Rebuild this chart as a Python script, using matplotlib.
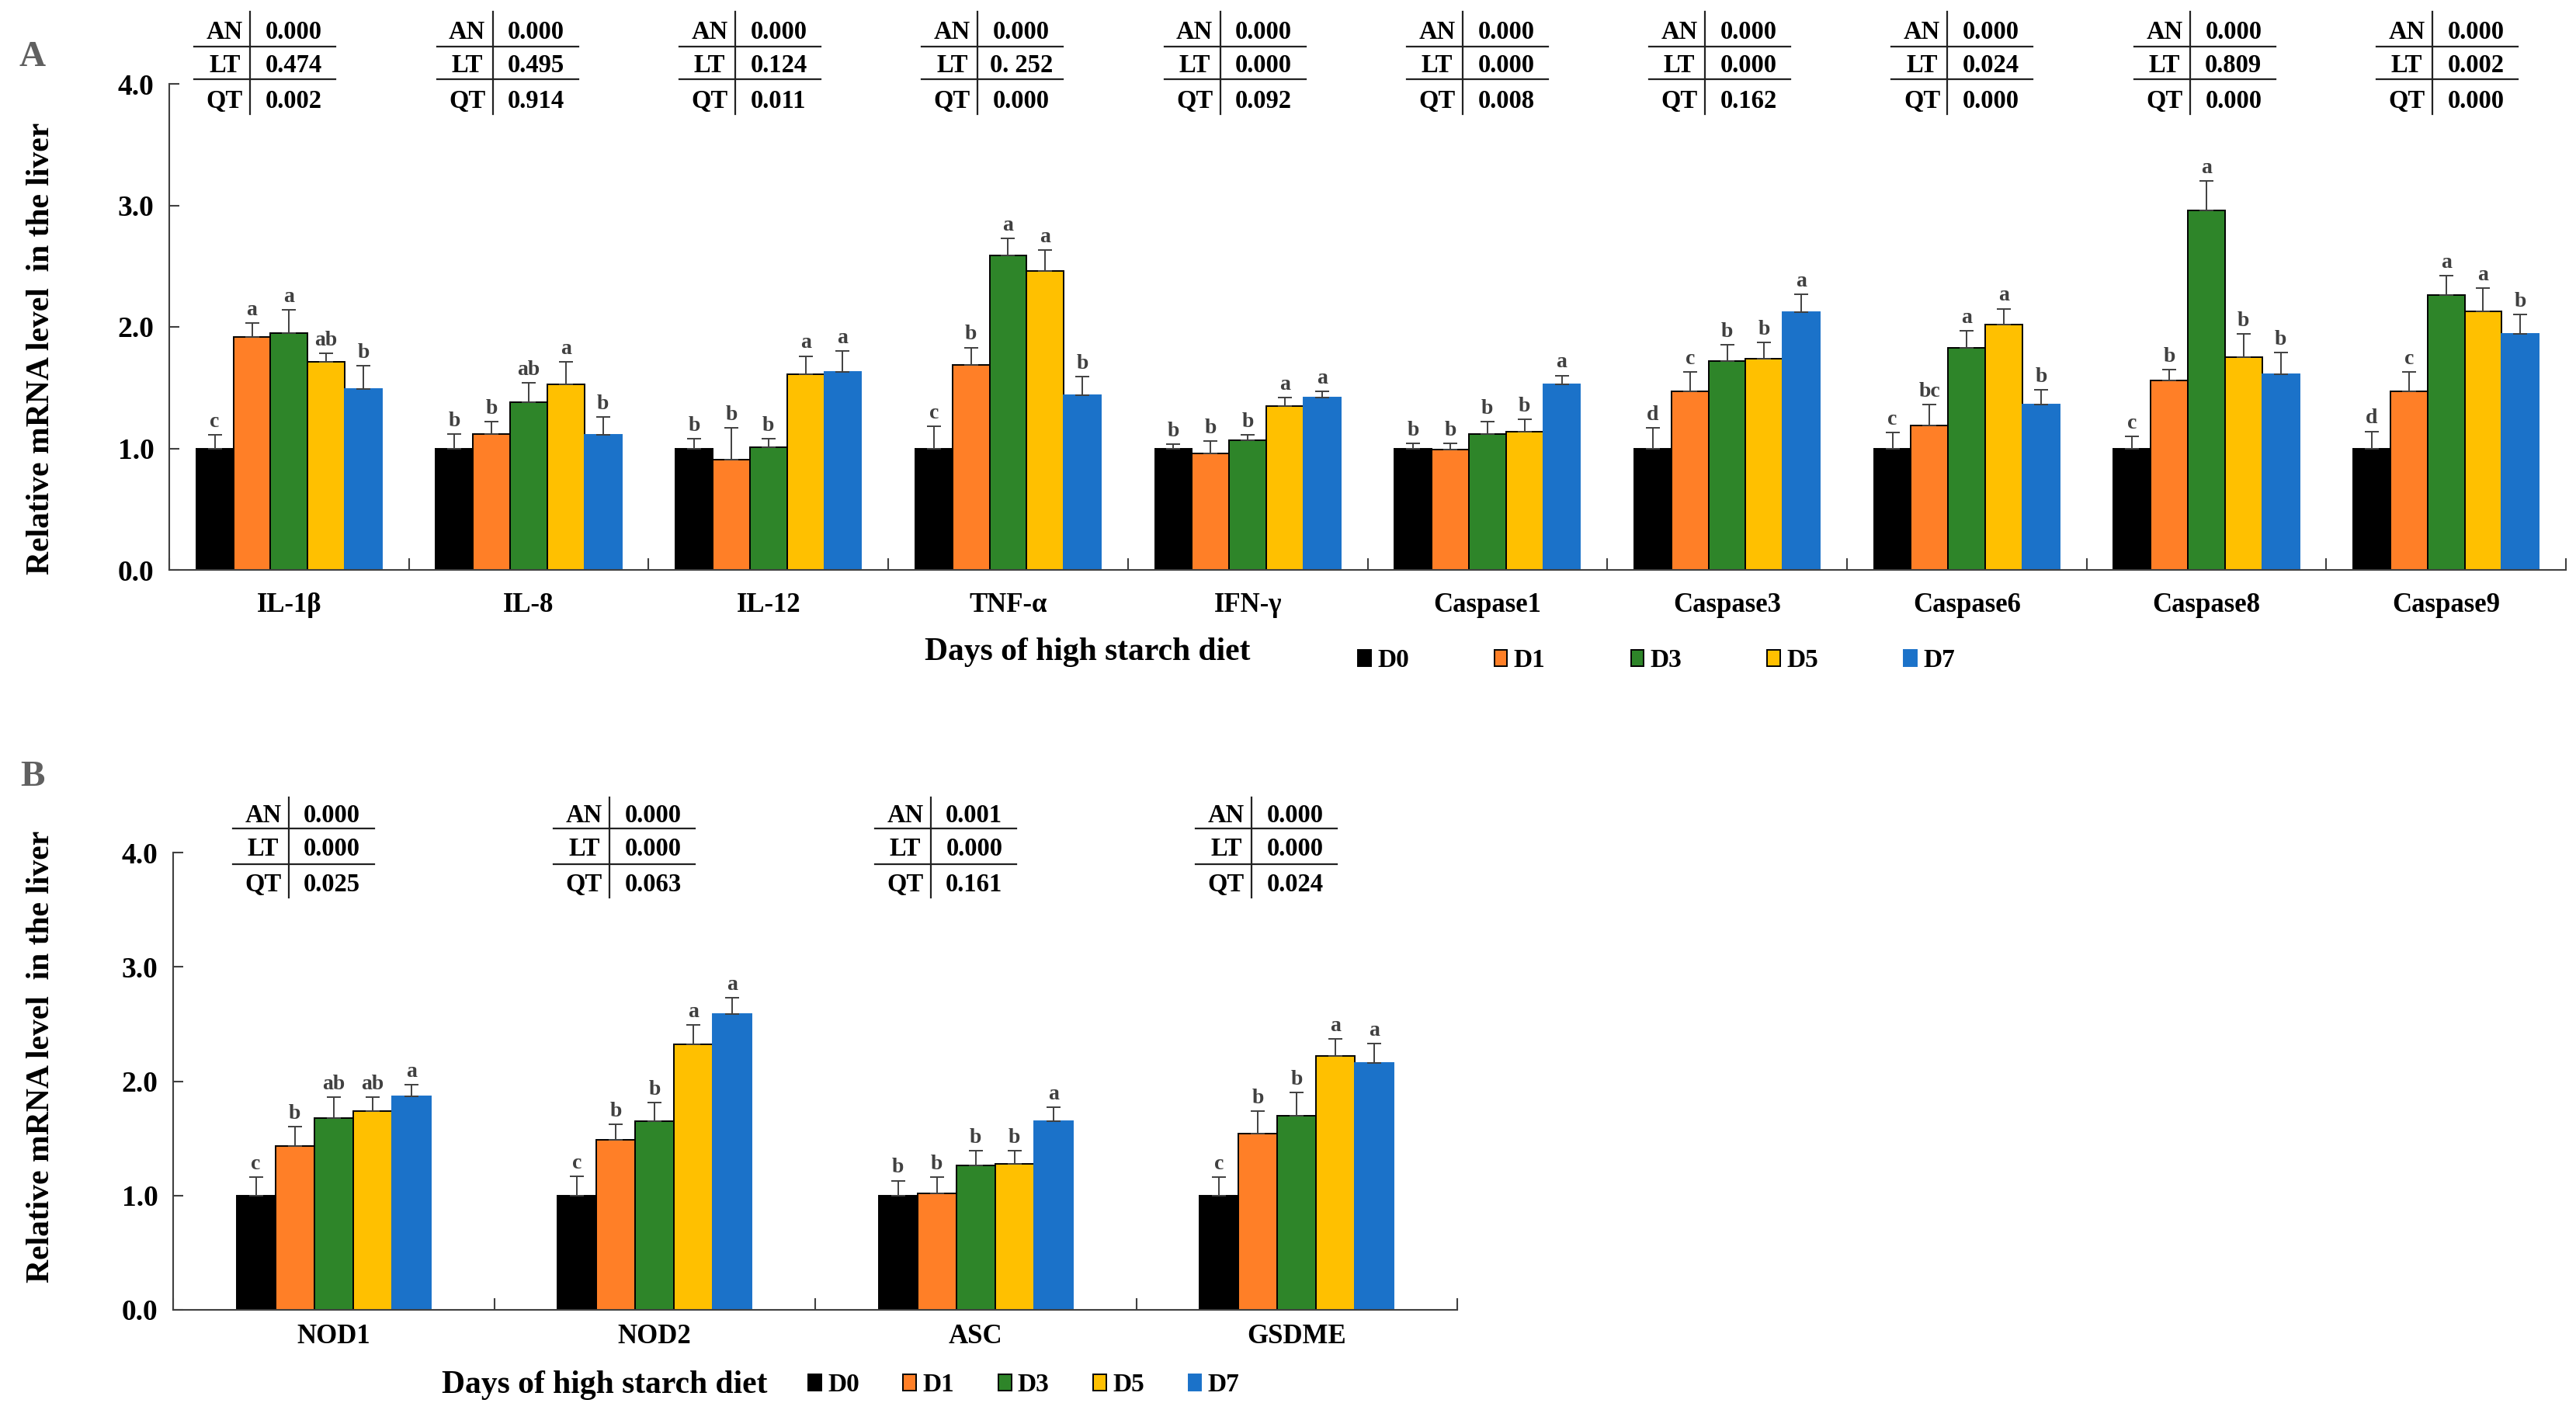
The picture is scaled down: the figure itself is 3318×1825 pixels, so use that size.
import numpy as np
import matplotlib.pyplot as plt
from matplotlib.patches import Patch

plt.rcParams['font.family'] = ['Liberation Serif', 'DejaVu Serif']
plt.rcParams['font.weight'] = 'bold'

# ---------------- data ----------------
days = ['D0', 'D1', 'D3', 'D5', 'D7']
colors = ['#000000', '#FF7F27', '#2E8529', '#FFC000', '#1B72C9']
edges = ['black', 'black', 'black', 'black', '#1B72C9']

genes_a = ['IL-1β', 'IL-8', 'IL-12', 'TNF-α', 'IFN-γ',
           'Caspase1', 'Caspase3', 'Caspase6', 'Caspase8', 'Caspase9']
means_a = [
    [1.00, 1.92, 1.95, 1.71, 1.49],
    [1.00, 1.12, 1.38, 1.53, 1.11],
    [1.00, 0.91, 1.01, 1.61, 1.63],
    [1.00, 1.69, 2.59, 2.46, 1.44],
    [1.00, 0.96, 1.07, 1.35, 1.42],
    [1.00, 0.99, 1.12, 1.14, 1.53],
    [1.00, 1.47, 1.72, 1.74, 2.12],
    [1.00, 1.19, 1.83, 2.02, 1.36],
    [1.00, 1.56, 2.96, 1.75, 1.61],
    [1.00, 1.47, 2.26, 2.13, 1.94],
]
sem_a = [
    [0.11, 0.11, 0.19, 0.07, 0.19],
    [0.12, 0.10, 0.16, 0.18, 0.15],
    [0.08, 0.26, 0.07, 0.15, 0.17],
    [0.18, 0.14, 0.14, 0.17, 0.15],
    [0.035, 0.10, 0.04, 0.07, 0.05],
    [0.04, 0.05, 0.10, 0.10, 0.07],
    [0.17, 0.16, 0.13, 0.13, 0.15],
    [0.13, 0.17, 0.14, 0.13, 0.12],
    [0.10, 0.09, 0.24, 0.19, 0.18],
    [0.14, 0.16, 0.16, 0.19, 0.16],
]
letters_a = [
    ['c', 'a', 'a', 'ab', 'b'],
    ['b', 'b', 'ab', 'a', 'b'],
    ['b', 'b', 'b', 'a', 'a'],
    ['c', 'b', 'a', 'a', 'b'],
    ['b', 'b', 'b', 'a', 'a'],
    ['b', 'b', 'b', 'b', 'a'],
    ['d', 'c', 'b', 'b', 'a'],
    ['c', 'bc', 'a', 'a', 'b'],
    ['c', 'b', 'a', 'b', 'b'],
    ['d', 'c', 'a', 'a', 'b'],
]
pvals_a = [
    ['0.000', '0.474', '0.002'],
    ['0.000', '0.495', '0.914'],
    ['0.000', '0.124', '0.011'],
    ['0.000', '0. 252', '0.000'],
    ['0.000', '0.000', '0.092'],
    ['0.000', '0.000', '0.008'],
    ['0.000', '0.000', '0.162'],
    ['0.000', '0.024', '0.000'],
    ['0.000', '0.809', '0.000'],
    ['0.000', '0.002', '0.000'],
]

genes_b = ['NOD1', 'NOD2', 'ASC', 'GSDME']
means_b = [
    [1.00, 1.43, 1.68, 1.74, 1.87],
    [1.00, 1.49, 1.65, 2.32, 2.59],
    [1.00, 1.02, 1.26, 1.28, 1.65],
    [1.00, 1.54, 1.70, 2.22, 2.16],
]
sem_b = [
    [0.16, 0.17, 0.18, 0.12, 0.10],
    [0.17, 0.13, 0.16, 0.17, 0.14],
    [0.13, 0.14, 0.13, 0.11, 0.12],
    [0.16, 0.20, 0.20, 0.15, 0.17],
]
letters_b = [
    ['c', 'b', 'ab', 'ab', 'a'],
    ['c', 'b', 'b', 'a', 'a'],
    ['b', 'b', 'b', 'b', 'a'],
    ['c', 'b', 'b', 'a', 'a'],
]
pvals_b = [
    ['0.000', '0.000', '0.025'],
    ['0.000', '0.000', '0.063'],
    ['0.001', '0.000', '0.161'],
    ['0.000', '0.000', '0.024'],
]
tests = ['AN', 'LT', 'QT']

# ---------------- figure ----------------
W, H = 3318, 1825
fig = plt.figure(figsize=(W / 100, H / 100), dpi=100)
AXC = '#404040'


def panel(rect, genes, means, sems, letters, pvals, bar_w, label_pad,
          rows_y, lines_y, vline_y, shift_px, shift_step):
    ax = fig.add_axes(rect)
    n = len(genes)
    px = n / (rect[2] * W)  # data units per pixel
    means = np.array(means)
    sems = np.array(sems)
    for k in range(5):
        xs = np.arange(n) + 0.5 + (k - 2) * bar_w
        ax.bar(xs, means[:, k], width=bar_w, color=colors[k],
               edgecolor=edges[k], linewidth=1.4, zorder=2)
        ax.errorbar(xs, means[:, k], yerr=[np.zeros(n), sems[:, k]], fmt='none',
                    ecolor=AXC, elinewidth=1.4, capsize=6.5, capthick=1.4, zorder=3)
        for i in range(n):
            ax.annotate(letters[i][k], (xs[i], means[i, k] + sems[i, k]),
                        xytext=(0, 3), textcoords='offset points',
                        ha='center', va='bottom', fontsize=20, color=AXC)

    # p-value tables
    tr = ax.get_xaxis_transform()
    for i in range(n):
        mid = i + 0.5 + (shift_px + shift_step * i) * px
        for r in range(3):
            ax.text(mid - 52 * px, rows_y[r], tests[r], transform=tr,
                    ha='center', va='center', fontsize=23.5, clip_on=False)
            ax.text(mid + 37 * px, rows_y[r], pvals[i][r], transform=tr,
                    ha='center', va='center', fontsize=23.5, clip_on=False)
        for ly in lines_y:
            ax.plot([mid - 91 * px, mid + 91 * px], [ly, ly], transform=tr,
                    color='#222222', lw=1.6, clip_on=False)
        ax.plot([mid - 19 * px, mid - 19 * px], vline_y, transform=tr,
                color='#222222', lw=1.6, clip_on=False)

    ax.set_xlim(0, n)
    ax.set_ylim(0, 4)
    ax.set_yticks([0, 1, 2, 3, 4])
    ax.set_yticklabels(['%.1f' % v for v in [0, 1, 2, 3, 4]])
    ax.set_xticks(np.arange(n + 1))
    ax.set_xticklabels([])
    ax.set_xticks(np.arange(n) + 0.5, minor=True)
    ax.set_xticklabels(genes, minor=True)
    ax.tick_params(axis='x', which='major', direction='in', length=11,
                   width=1.5, color=AXC)
    ax.tick_params(axis='x', which='minor', length=0, pad=label_pad,
                   labelsize=25)
    ax.tick_params(axis='y', direction='in', length=9, width=1.5, color=AXC,
                   labelsize=27, pad=14)
    for s in ['top', 'right']:
        ax.spines[s].set_visible(False)
    for s in ['left', 'bottom']:
        ax.spines[s].set_color(AXC)
        ax.spines[s].set_linewidth(1.5)
    return ax


ax_a = panel([218 / W, 1 - 734 / H, (3305 - 218) / W, (734 - 108) / H],
             genes_a, means_a, sem_a, letters_a, pvals_a, 0.155, 21,
             [1.106, 1.037, 0.964], [1.077, 1.010], [0.937, 1.148], -31, 3.6)
ax_b = panel([223 / W, 1 - 1687 / H, (1877 - 223) / W, (1687 - 1098) / H],
             genes_b, means_b, sem_b, letters_b, pvals_b, 0.121, 13,
             [1.080, 1.007, 0.930], [1.053, 0.975], [0.902, 1.121], -39, 0)

# axis titles and panel letters
ylab = 'Relative mRNA level  in the liver'
fig.text(53 / W, 1 - 449 / H, ylab, rotation=90, ha='center', va='center', fontsize=30)
fig.text(53 / W, 1 - 1361 / H, ylab, rotation=90, ha='center', va='center', fontsize=30)
fig.text(1401 / W, 1 - 840 / H, 'Days of high starch diet', ha='center', va='center', fontsize=30)
fig.text(779 / W, 1 - 1784 / H, 'Days of high starch diet', ha='center', va='center', fontsize=30)
fig.text(42 / W, 1 - 74 / H, 'A', ha='center', va='center', fontsize=34, color='#606060')
fig.text(42 / W, 1 - 1001 / H, 'B', ha='center', va='center', fontsize=34, color='#606060')

handles = [Patch(facecolor=colors[k], edgecolor=edges[k], linewidth=1.4, label=days[k])
           for k in range(5)]
ax_a.legend(handles=handles, ncol=5, loc='center left', frameon=False,
            bbox_to_anchor=(1749 / W, 1 - 851 / H), bbox_transform=fig.transFigure,
            fontsize=24, handlelength=0.5, handleheight=0.6, handletextpad=0.25,
            columnspacing=3.3, borderpad=0, borderaxespad=0)
ax_b.legend(handles=handles, ncol=5, loc='center left', frameon=False,
            bbox_to_anchor=(1041 / W, 1 - 1784 / H), bbox_transform=fig.transFigure,
            fontsize=24, handlelength=0.5, handleheight=0.6, handletextpad=0.25,
            columnspacing=1.7, borderpad=0, borderaxespad=0)

fig.savefig('out.png', dpi=100)
